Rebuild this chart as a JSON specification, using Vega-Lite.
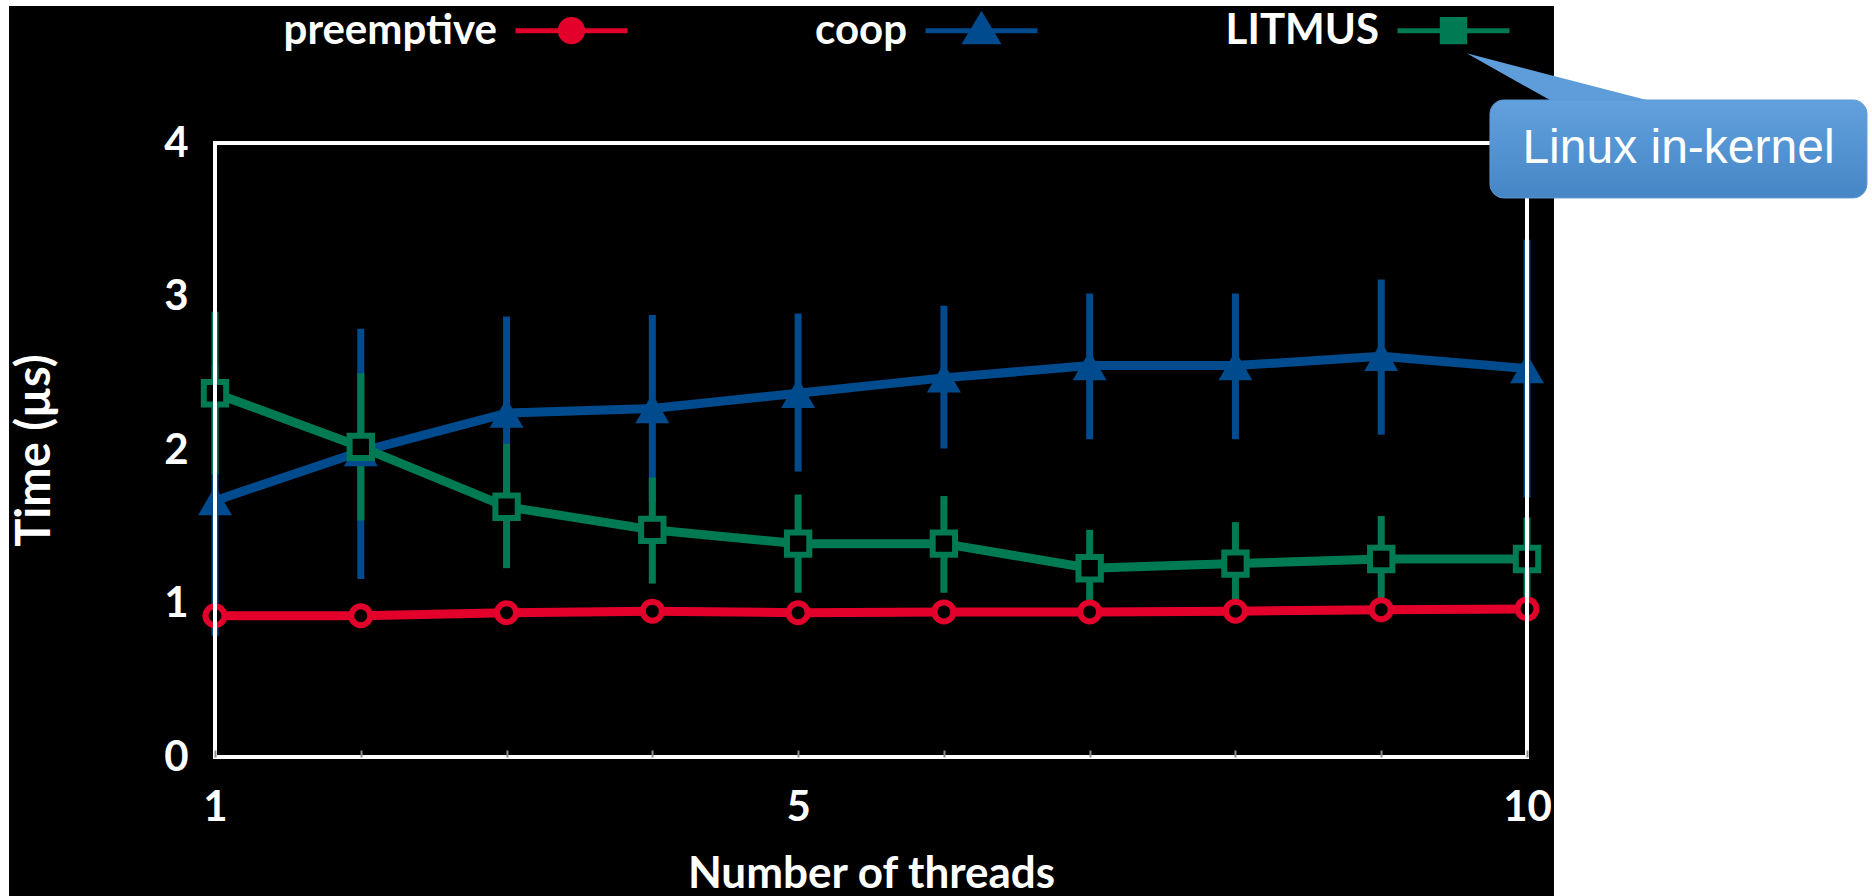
{
  "$schema": "https://vega.github.io/schema/vega-lite/v6.json",
  "width": 1312,
  "height": 614,
  "autosize": {"type": "none"},
  "padding": {"left": 215, "top": 143, "right": 345, "bottom": 139},
  "background": "white",
  "config": {
    "view": {"stroke": null},
    "axis": {
      "labelColor": "white", "titleColor": "white",
      "labelFont": "Lato", "titleFont": "Lato",
      "labelFontWeight": "bold", "titleFontWeight": "bold",
      "labelFontSize": 42, "titleFontSize": 44,
      "grid": false, "ticks": false, "domain": false, "format": "d"
    },
    "legend": {
      "title": null,
      "orient": "none",
      "legendX": 298,
      "legendY": -171,
      "direction": "horizontal",
      "labelAlign": "right",
      "labelOffset": -133,
      "symbolSize": 12544,
      "symbolStrokeWidth": 5,
      "columnPadding": 177,
      "labelFont": "Lato",
      "labelFontWeight": "bold",
      "labelFontSize": 42,
      "labelColor": "white",
      "labelLimit": 0
    }
  },
  "datasets": {
    "main": [
      {"series": "preemptive", "x": 1, "y": 0.92},
      {"series": "preemptive", "x": 2, "y": 0.92},
      {"series": "preemptive", "x": 3, "y": 0.94},
      {"series": "preemptive", "x": 4, "y": 0.95},
      {"series": "preemptive", "x": 5, "y": 0.94},
      {"series": "preemptive", "x": 6, "y": 0.945},
      {"series": "preemptive", "x": 7, "y": 0.945},
      {"series": "preemptive", "x": 8, "y": 0.95},
      {"series": "preemptive", "x": 9, "y": 0.96},
      {"series": "preemptive", "x": 10, "y": 0.965},
      {"series": "coop", "x": 1, "y": 1.67},
      {"series": "coop", "x": 2, "y": 1.99},
      {"series": "coop", "x": 3, "y": 2.24},
      {"series": "coop", "x": 4, "y": 2.27},
      {"series": "coop", "x": 5, "y": 2.37},
      {"series": "coop", "x": 6, "y": 2.47},
      {"series": "coop", "x": 7, "y": 2.55},
      {"series": "coop", "x": 8, "y": 2.55},
      {"series": "coop", "x": 9, "y": 2.61},
      {"series": "coop", "x": 10, "y": 2.53},
      {"series": "LITMUS", "x": 1, "y": 2.37},
      {"series": "LITMUS", "x": 2, "y": 2.02},
      {"series": "LITMUS", "x": 3, "y": 1.63},
      {"series": "LITMUS", "x": 4, "y": 1.48},
      {"series": "LITMUS", "x": 5, "y": 1.39},
      {"series": "LITMUS", "x": 6, "y": 1.39},
      {"series": "LITMUS", "x": 7, "y": 1.23},
      {"series": "LITMUS", "x": 8, "y": 1.26},
      {"series": "LITMUS", "x": 9, "y": 1.29},
      {"series": "LITMUS", "x": 10, "y": 1.29}
    ],
    "bars": [
      {"series": "coop", "x": 1, "lo": 0.79, "hi": 2.55},
      {"series": "coop", "x": 2, "lo": 1.16, "hi": 2.79},
      {"series": "coop", "x": 3, "lo": 1.61, "hi": 2.87},
      {"series": "coop", "x": 4, "lo": 1.66, "hi": 2.88},
      {"series": "coop", "x": 5, "lo": 1.86, "hi": 2.89},
      {"series": "coop", "x": 6, "lo": 2.01, "hi": 2.94},
      {"series": "coop", "x": 7, "lo": 2.07, "hi": 3.02},
      {"series": "coop", "x": 8, "lo": 2.07, "hi": 3.02},
      {"series": "coop", "x": 9, "lo": 2.10, "hi": 3.11},
      {"series": "coop", "x": 10, "lo": 1.69, "hi": 3.37},
      {"series": "LITMUS", "x": 1, "lo": 1.84, "hi": 2.90},
      {"series": "LITMUS", "x": 2, "lo": 1.54, "hi": 2.50},
      {"series": "LITMUS", "x": 3, "lo": 1.23, "hi": 2.04},
      {"series": "LITMUS", "x": 4, "lo": 1.13, "hi": 1.82},
      {"series": "LITMUS", "x": 5, "lo": 1.07, "hi": 1.71},
      {"series": "LITMUS", "x": 6, "lo": 1.07, "hi": 1.70},
      {"series": "LITMUS", "x": 7, "lo": 0.96, "hi": 1.48},
      {"series": "LITMUS", "x": 8, "lo": 1.00, "hi": 1.53},
      {"series": "LITMUS", "x": 9, "lo": 1.00, "hi": 1.57},
      {"series": "LITMUS", "x": 10, "lo": 1.00, "hi": 1.56}
    ]
  },
  "layer": [
    {
      "data": {"values": [{}]},
      "mark": {"type": "rect", "fill": "black"},
      "encoding": {
        "x": {"datum": -0.413, "type": "quantitative", "scale": {"domain": [1, 10], "nice": false, "zero": false}},
        "x2": {"datum": 10.185},
        "y": {"datum": 4.893, "type": "quantitative", "scale": {"domain": [0, 4], "nice": false}},
        "y2": {"datum": -1}
      }
    },
    {
      "data": {"name": "bars"},
      "mark": {"type": "rule", "strokeWidth": 7},
      "encoding": {
        "x": {"field": "x", "type": "quantitative"},
        "y": {"field": "lo", "type": "quantitative"},
        "y2": {"field": "hi"},
        "color": {
          "field": "series", "type": "nominal",
          "legend": {"encode": {"symbols": {"update": {
            "shape": {"signal": "datum.value === 'preemptive' ? 'M-1,0H1M0.2,0A0.2,0.2,0,1,1,-0.2,0A0.2,0.2,0,1,1,0.2,0Z' : datum.value === 'coop' ? 'M-1,0H1M0,-0.27L0.28,0.2L-0.28,0.2Z' : 'M-1,0H1M-0.2,-0.2H0.2V0.2H-0.2Z'"},
            "fill": {"signal": "datum.value === 'coop' ? '#004B8D' : 'black'"},
            "opacity": {"value": 1}
          }}}}
        }
      }
    },
    {
      "data": {"name": "main"},
      "mark": {"type": "line", "strokeWidth": 9},
      "encoding": {
        "x": {
          "field": "x", "type": "quantitative",
          "scale": {"domain": [1, 10], "nice": false, "zero": false},
          "axis": {
            "title": "Number of threads",
            "values": [1, 2, 3, 4, 5, 6, 7, 8, 9, 10],
            "labelExpr": "datum.value == 1 || datum.value == 5 || datum.value == 10 ? datum.label : ''",
            "labelFlush": false, "labelOverlap": false,
            "ticks": true, "tickSize": -7, "tickColor": "#8c8c8c", "tickWidth": 2,
            "labelPadding": 37, "titlePadding": 24, "zindex": 1
          }
        },
        "y": {
          "field": "y", "type": "quantitative",
          "scale": {"domain": [0, 4], "nice": false},
          "axis": {
            "title": "Time (µs)",
            "values": [0, 1, 2, 3, 4],
            "titleFontSize": 47,
            "labelPadding": 27, "titlePadding": 104, "zindex": 1
          }
        },
        "color": {
          "field": "series", "type": "nominal",
          "scale": {"domain": ["preemptive", "coop", "LITMUS"], "range": ["#E3002B", "#004B8D", "#007A53"]},
          "legend": {"encode": {"symbols": {"update": {
            "shape": {"signal": "datum.value === 'preemptive' ? 'M-1,0H1M0.2,0A0.2,0.2,0,1,1,-0.2,0A0.2,0.2,0,1,1,0.2,0Z' : datum.value === 'coop' ? 'M-1,0H1M0,-0.27L0.28,0.2L-0.28,0.2Z' : 'M-1,0H1M-0.2,-0.2H0.2V0.2H-0.2Z'"},
            "fill": {"signal": "datum.value === 'coop' ? '#004B8D' : 'black'"},
            "opacity": {"value": 1}
          }}}}
        }
      }
    },
    {
      "data": {"name": "main"},
      "transform": [{"filter": "datum.series === 'preemptive'"}],
      "mark": {"type": "point", "shape": "circle", "size": 360, "strokeWidth": 6, "opacity": 1},
      "encoding": {
        "x": {"field": "x", "type": "quantitative"},
        "y": {"field": "y", "type": "quantitative"},
        "fill": {"value": "black"},
        "color": {
          "field": "series", "type": "nominal",
          "legend": {"encode": {"symbols": {"update": {
            "shape": {"signal": "datum.value === 'preemptive' ? 'M-1,0H1M0.2,0A0.2,0.2,0,1,1,-0.2,0A0.2,0.2,0,1,1,0.2,0Z' : datum.value === 'coop' ? 'M-1,0H1M0,-0.27L0.28,0.2L-0.28,0.2Z' : 'M-1,0H1M-0.2,-0.2H0.2V0.2H-0.2Z'"},
            "fill": {"signal": "datum.value === 'coop' ? '#004B8D' : 'black'"},
            "opacity": {"value": 1}
          }}}}
        }
      }
    },
    {
      "data": {"name": "main"},
      "transform": [{"filter": "datum.series === 'coop'"}],
      "mark": {"type": "point", "shape": "triangle-up", "size": 1150, "filled": true, "opacity": 1},
      "encoding": {
        "x": {"field": "x", "type": "quantitative"},
        "y": {"field": "y", "type": "quantitative"},
        "color": {
          "field": "series", "type": "nominal",
          "legend": {"encode": {"symbols": {"update": {
            "shape": {"signal": "datum.value === 'preemptive' ? 'M-1,0H1M0.2,0A0.2,0.2,0,1,1,-0.2,0A0.2,0.2,0,1,1,0.2,0Z' : datum.value === 'coop' ? 'M-1,0H1M0,-0.27L0.28,0.2L-0.28,0.2Z' : 'M-1,0H1M-0.2,-0.2H0.2V0.2H-0.2Z'"},
            "fill": {"signal": "datum.value === 'coop' ? '#004B8D' : 'black'"},
            "opacity": {"value": 1}
          }}}}
        }
      }
    },
    {
      "data": {"name": "main"},
      "transform": [{"filter": "datum.series === 'LITMUS'"}],
      "mark": {"type": "point", "shape": "square", "size": 500, "strokeWidth": 6, "opacity": 1},
      "encoding": {
        "x": {"field": "x", "type": "quantitative"},
        "y": {"field": "y", "type": "quantitative"},
        "fill": {"value": "black"},
        "color": {
          "field": "series", "type": "nominal",
          "legend": {"encode": {"symbols": {"update": {
            "shape": {"signal": "datum.value === 'preemptive' ? 'M-1,0H1M0.2,0A0.2,0.2,0,1,1,-0.2,0A0.2,0.2,0,1,1,0.2,0Z' : datum.value === 'coop' ? 'M-1,0H1M0,-0.27L0.28,0.2L-0.28,0.2Z' : 'M-1,0H1M-0.2,-0.2H0.2V0.2H-0.2Z'"},
            "fill": {"signal": "datum.value === 'coop' ? '#004B8D' : 'black'"},
            "opacity": {"value": 1}
          }}}}
        }
      }
    },
    {
      "data": {"values": [{}]},
      "mark": {"type": "rect", "fillOpacity": 0, "stroke": "white", "strokeWidth": 4},
      "encoding": {
        "x": {"datum": 1, "type": "quantitative"},
        "x2": {"datum": 10},
        "y": {"datum": 0, "type": "quantitative"},
        "y2": {"datum": 4}
      }
    },
    {
      "data": {"values": [{}]},
      "mark": {"type": "point", "shape": "M0,0L0.833,0.467L0.85,0.6L1.8,0.6L1.8,0.467Z", "size": 40000, "filled": true, "fill": "#5E9DDA", "strokeWidth": 0, "opacity": 1},
      "encoding": {
        "x": {"datum": 9.586, "type": "quantitative"},
        "y": {"datum": 4.584, "type": "quantitative"}
      }
    },
    {
      "data": {"values": [{}]},
      "mark": {
        "type": "rect", "cornerRadius": 14,
        "fill": {"gradient": "linear", "x1": 0, "y1": 0, "x2": 0, "y2": 1, "stops": [{"offset": 0, "color": "#62A1DD"}, {"offset": 1, "color": "#4786C6"}]},
        "stroke": "#5A99D6", "strokeWidth": 1
      },
      "encoding": {
        "x": {"datum": 9.746, "type": "quantitative"},
        "x2": {"datum": 12.332},
        "y": {"datum": 4.28, "type": "quantitative"},
        "y2": {"datum": 3.642}
      }
    },
    {
      "data": {"values": [{}]},
      "mark": {"type": "text", "text": "Linux in-kernel", "font": "Liberation Sans", "fontSize": 48, "fill": "white", "align": "center", "baseline": "middle"},
      "encoding": {
        "x": {"datum": 11.039, "type": "quantitative"},
        "y": {"datum": 3.961, "type": "quantitative"}
      }
    }
  ]
}
